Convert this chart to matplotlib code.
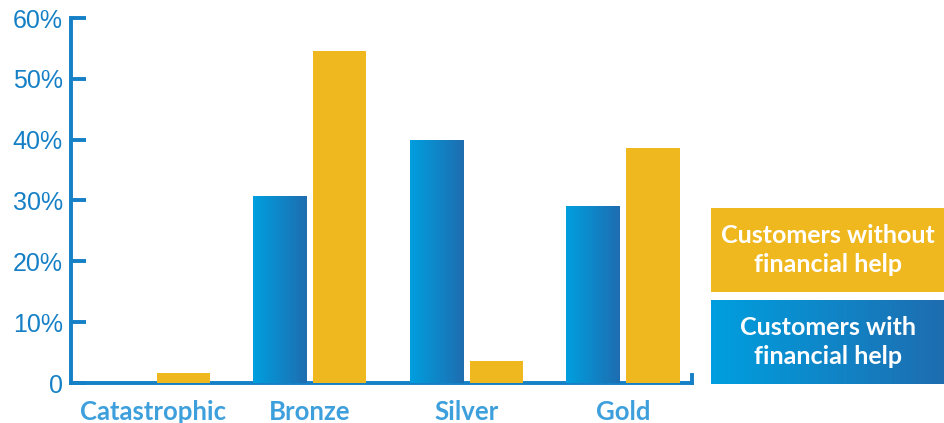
import numpy as np
import matplotlib
matplotlib.use("Agg")
from matplotlib import pyplot as plt
from matplotlib.colors import LinearSegmentedColormap
from matplotlib.ticker import FuncFormatter

# data
categories = ["Catastrophic", "Bronze", "Silver", "Gold"]
with_help = [0.0, 30.8, 40.0, 29.1]
without_help = [1.6, 54.6, 3.6, 38.7]
yticks = [0, 10, 20, 30, 40, 50, 60]
legend_labels = ["Customers without\nfinancial help", "Customers with\nfinancial help"]

axis_blue = "#1580c6"
label_blue = "#3d9fdc"
yellow = "#f0b81f"
grad = LinearSegmentedColormap.from_list("blu", ["#009fdf", "#1e6db0"])
gradient = np.linspace(0, 1, 256).reshape(1, -1)


def fill_gradient(ax, patch):
    x0, y0 = patch.get_x(), patch.get_y()
    w, h = patch.get_width(), patch.get_height()
    if h <= 0:
        patch.set_visible(False)
        return
    im = ax.imshow(gradient, cmap=grad, aspect="auto",
                   extent=(x0, x0 + w, y0, y0 + h), zorder=patch.get_zorder())
    im.set_clip_path(patch)


fig = plt.figure(figsize=(9.44, 4.23), dpi=100)
ax = fig.add_axes([71 / 944, 40 / 423, (692 - 71) / 944, (383 - 18) / 423])

x = np.arange(len(categories))
w = 0.339
off = 0.192
bars_b = ax.bar(x - off, with_help, w, color="#0a8ad0", zorder=3)
bars_y = ax.bar(x + off, without_help, w, color=yellow, zorder=3)
for b in bars_b:
    fill_gradient(ax, b)
for b in bars_y:
    b.set_y(-0.3)
    b.set_height(b.get_height() + 0.3)

ax.set_xlim(-0.526, 3.441)
ax.set_ylim(0, 60)
ax.set_yticks(yticks)
ax.yaxis.set_major_formatter(FuncFormatter(lambda v, p: "0" if v == 0 else f"{v:.0f}%"))
ax.set_xticks(x)
ax.set_xticklabels(categories, fontfamily="Lato", fontweight="bold",
                   fontsize=18.5, color=label_blue)

ax.spines["top"].set_visible(False)
ax.spines["right"].set_bounds(0, 1.3)
for s in ["left", "bottom", "right"]:
    ax.spines[s].set_color(axis_blue)
    ax.spines[s].set_linewidth(2.8)
ax.spines["left"].set_zorder(4)
ax.spines["bottom"].set_zorder(2)

ax.tick_params(axis="y", direction="in", length=11, width=2.8, color=axis_blue,
               labelcolor=axis_blue, labelsize=18, pad=6)
ax.tick_params(axis="x", length=0, pad=12.5)
for t in ax.get_yticklabels():
    t.set_fontfamily("Liberation Sans")

# legend boxes on the right
lx, lw = 711 / 944, (944 - 711) / 944
box_top = fig.add_axes([lx, (423 - 292) / 423, lw, 84 / 423])
box_top.add_patch(plt.Rectangle((0, 0), 1, 1, color=yellow, zorder=0))
box_bot = fig.add_axes([lx, (423 - 384) / 423, lw, 84 / 423])
box_bot.imshow(gradient, cmap=grad, aspect="auto", extent=(0, 1, 0, 1))
for bx, lab in zip([box_top, box_bot], legend_labels):
    bx.set_xlim(0, 1)
    bx.set_ylim(0, 1)
    bx.set_axis_off()
    bx.text(0.5, 0.5, lab, ha="center", va="center", color="white",
            fontfamily="Lato", fontweight="bold", fontsize=18, linespacing=1.35)

fig.savefig("out.png", dpi=100)
